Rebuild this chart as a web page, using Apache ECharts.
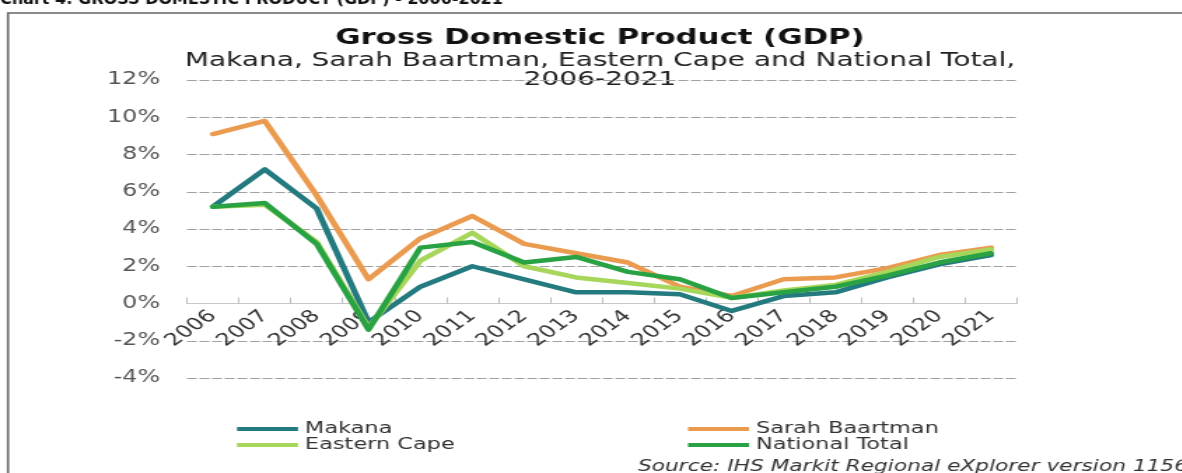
<!DOCTYPE html>
<html>
<head>
<meta charset="utf-8">
<script src="https://cdn.jsdelivr.net/npm/echarts@6/dist/echarts.min.js"></script>
<style>
  html, body { margin: 0; padding: 0; background: #ffffff; overflow: hidden; }
  #stage { width: 1182px; height: 473px; overflow: hidden; position: relative; background: #fff; }
  /* the chart is laid out narrow and then widened, like the original graphic */
  #chart { height: 473px; transform-origin: 0 0; }
</style>
</head>
<body>
<div id="stage"><div id="chart"></div></div>
<script>
// horizontal widening of the whole chart graphic
const STRETCH = 1.4;
const PAGE_W = 1182;
const W = PAGE_W / STRETCH;

// GDP growth, % per year
const years = ['2006', '2007', '2008', '2009', '2010', '2011', '2012', '2013',
               '2014', '2015', '2016', '2017', '2018', '2019', '2020', '2021'];
const makana        = [5.2, 7.2, 5.1, -1.0, 0.9, 2.0, 1.3, 0.6, 0.6, 0.5, -0.4, 0.4, 0.6, 1.4, 2.1, 2.6];
const sarahBaartman = [9.1, 9.8, 5.8, 1.3, 3.5, 4.7, 3.2, 2.7, 2.2, 0.9, 0.4, 1.3, 1.4, 1.9, 2.6, 3.0];
const easternCape   = [5.2, 5.3, 3.3, -1.3, 2.3, 3.8, 2.0, 1.4, 1.1, 0.8, 0.3, 0.7, 1.0, 1.7, 2.5, 2.9];
const nationalTotal = [5.2, 5.4, 3.2, -1.4, 3.0, 3.3, 2.2, 2.5, 1.7, 1.3, 0.3, 0.6, 0.9, 1.5, 2.2, 2.7];

const yMin = -4, yMax = 12, yStep = 2;

const seriesNames  = ['Makana', 'Sarah Baartman', 'Eastern Cape', 'National Total'];
const seriesColors = ['#237a7f', '#eb9b4f', '#a6d65a', '#29a244'];
const seriesData   = [makana, sarahBaartman, easternCape, nationalTotal];

const headingText  = 'Chart 4: GROSS DOMESTIC PRODUCT (GDP) - 2006-2021';
const titleText    = 'Gross Domestic Product (GDP)';
const subtitleText = ['Makana, Sarah Baartman, Eastern Cape and National Total,', '2006-2021'];
const sourceText   = 'Source: IHS Markit Regional eXplorer version 1156';

const FONT = 'DejaVu Sans';
const px = x => x / STRETCH;   // page x -> chart x

// plot box (page pixels)
const PLOT_TOP = 80, PLOT_BOTTOM = 378;
const plotH = PLOT_BOTTOM - PLOT_TOP;
// the category axis sits on the 0% line
const zeroFromBottom = (0 - yMin) / (yMax - yMin) * plotH;

const el = document.getElementById('chart');
el.style.width = W + 'px';
el.style.transform = 'scaleX(' + STRETCH + ')';

const chart = echarts.init(el, null, { renderer: 'canvas', width: W, height: 473 });

const legendBase = {
  orient: 'vertical',
  top: 421,
  itemWidth: px(61),
  itemHeight: 4,
  itemGap: 0,
  padding: 0,
  icon: 'rect',
  selectedMode: false,
  textStyle: { fontFamily: FONT, fontSize: 16, lineHeight: 16, color: '#333' }
};

chart.setOption({
  animation: false,
  backgroundColor: '#ffffff',
  grid: { left: px(187), right: W - px(1017), top: PLOT_TOP, bottom: 473 - PLOT_BOTTOM, containLabel: false },
  legend: [
    Object.assign({}, legendBase, { left: px(237), data: ['Makana', 'Eastern Cape'] }),
    Object.assign({}, legendBase, { left: px(688), data: ['Sarah Baartman', 'National Total'] })
  ],
  xAxis: {
    type: 'category',
    data: years,
    boundaryGap: true,
    position: 'bottom',
    offset: -zeroFromBottom,
    axisLine: { onZero: false, lineStyle: { color: '#c6c6c6', width: 1 } },
    axisTick: { show: true, inside: true, length: 6, lineStyle: { color: '#bdbdbd' } },
    axisLabel: { rotate: 44, margin: 10, fontFamily: FONT, fontSize: 17, color: '#333', interval: 0 },
    splitLine: { show: false }
  },
  yAxis: {
    type: 'value',
    min: yMin, max: yMax, interval: yStep,
    axisLine: { show: false },
    axisTick: { show: false },
    axisLabel: { formatter: '{value}%', margin: px(27), fontFamily: FONT, fontSize: 17, color: '#555' },
    splitLine: { show: true, lineStyle: { color: '#a0a0a0', width: 1, type: [7, 2] } }
  },
  series: seriesNames.map((name, i) => ({
    name: name,
    type: 'line',
    data: seriesData[i],
    symbol: 'none',
    color: seriesColors[i],
    lineStyle: { width: 4.5, color: seriesColors[i], cap: 'round', join: 'round' },
    z: 3 + i
  })),
  graphic: [
    // frame round the chart graphic
    { type: 'rect', silent: true, z: 0,
      shape: { x: px(8), y: 13, width: W + 20, height: 500 },
      style: { fill: 'none', stroke: '#666', lineWidth: 1.6 } },
    // document heading above the graphic (not widened)
    { type: 'text', silent: true, x: 0, y: 8, scaleX: 1 / STRETCH,
      style: { text: headingText, font: 'bold 16px ' + FONT, fill: '#111',
               align: 'left', verticalAlign: 'bottom' } },
    { type: 'text', silent: true, x: px(600), y: 38,
      style: { text: titleText, font: 'bold 22px ' + FONT, fill: '#111',
               align: 'center', verticalAlign: 'middle' } },
    { type: 'text', silent: true, x: px(600), y: 61,
      style: { text: subtitleText[0], font: '20px ' + FONT, fill: '#222',
               align: 'center', verticalAlign: 'middle' } },
    { type: 'text', silent: true, x: px(600), y: 80,
      style: { text: subtitleText[1], font: '20px ' + FONT, fill: '#222',
               align: 'center', verticalAlign: 'middle' } },
    { type: 'text', silent: true, x: px(638), y: 467,
      style: { text: sourceText, font: 'italic 15.5px ' + FONT, fill: '#333',
               align: 'left', verticalAlign: 'middle' } }
  ]
});
</script>
</body>
</html>
